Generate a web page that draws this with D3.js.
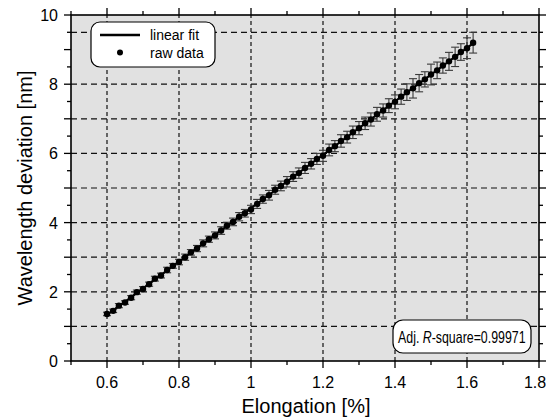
<!DOCTYPE html>
<html>
<head>
<meta charset="utf-8">
<script src="https://cdn.jsdelivr.net/npm/d3@7"></script>
<style>
  body { margin: 0; background: #fff; }
  text { font-family: "Liberation Sans", Arial, sans-serif; fill: #000; }
</style>
</head>
<body>
<div id="chart"></div>
<script>
// elongation [%]
var elongation = [0.600,0.617,0.633,0.650,0.667,0.683,0.700,0.717,0.733,0.750,0.767,0.783,
  0.800,0.817,0.833,0.850,0.867,0.883,0.900,0.917,0.933,0.950,0.967,0.983,
  1.000,1.017,1.033,1.050,1.067,1.083,1.100,1.117,1.133,1.150,1.167,1.183,
  1.200,1.217,1.233,1.250,1.267,1.283,1.300,1.317,1.333,1.350,1.367,1.383,
  1.400,1.417,1.433,1.450,1.467,1.483,1.500,1.517,1.533,1.550,1.567,1.583,1.600,1.617];

// wavelength deviation [nm]
var deviation = [1.36,1.45,1.60,1.69,1.83,1.99,2.08,2.22,2.38,2.47,2.63,2.75,
  2.86,3.00,3.14,3.25,3.40,3.52,3.63,3.77,3.91,4.02,4.17,4.27,
  4.38,4.54,4.68,4.79,4.95,5.06,5.18,5.33,5.43,5.58,5.70,5.84,
  5.93,6.10,6.21,6.36,6.47,6.61,6.73,6.87,6.98,7.13,7.24,7.38,
  7.49,7.64,7.77,7.88,8.03,8.14,8.28,8.40,8.54,8.66,8.79,8.93,9.04,9.20];

// error bar half-heights [nm]
var errors = [0.05,0.05,0.06,0.05,0.06,0.06,0.07,0.06,0.07,0.07,0.08,0.07,
  0.08,0.09,0.08,0.09,0.10,0.09,0.10,0.11,0.10,0.11,0.12,0.11,
  0.12,0.13,0.12,0.14,0.13,0.14,0.15,0.14,0.15,0.16,0.15,0.16,
  0.16,0.17,0.16,0.18,0.17,0.18,0.19,0.18,0.19,0.20,0.19,0.20,
  0.20,0.22,0.24,0.28,0.25,0.22,0.30,0.24,0.22,0.26,0.28,0.24,0.30,0.30];

// linear fit
var fitSlope = 7.72;
var fitIntercept = 1.33 - 7.72 * 0.6;

var xTickLabels = [0.6, 0.8, 1.0, 1.2, 1.4, 1.6, 1.8];
var yTickLabels = [0, 2, 4, 6, 8, 10];
var hGrid = [1, 2, 3, 4, 5, 6, 7, 8, 9.5];
var vGrid = [0.6, 0.8, 1.0, 1.2, 1.4, 1.6];
var legendItems = ["linear fit", "raw data"];

var width = 546, height = 419;
var margin = {top: 15, right: 7, bottom: 58, left: 71};

var svg = d3.select("#chart").append("svg")
    .attr("width", width)
    .attr("height", height);

var x = d3.scaleLinear().domain([0.5, 1.8]).range([margin.left, width - margin.right]);
var y = d3.scaleLinear().domain([0, 10]).range([height - margin.bottom, margin.top]);

var data = elongation.map(function(d, i) {
    return {x: d, y: deviation[i], e: errors[i]};
});

// plot background
svg.append("rect")
    .attr("x", x(0.5)).attr("y", y(10))
    .attr("width", x(1.8) - x(0.5)).attr("height", y(0) - y(10))
    .attr("fill", "#e1e1e1");

// grid
svg.selectAll(".hgrid").data(hGrid).enter().append("line")
    .attr("x1", x(0.5)).attr("x2", x(1.8))
    .attr("y1", d => y(d)).attr("y2", d => y(d))
    .attr("stroke", "#111").attr("stroke-width", 1.2)
    .attr("stroke-dasharray", "6,4");

svg.selectAll(".vgrid").data(vGrid).enter().append("line")
    .attr("y1", y(0)).attr("y2", y(10))
    .attr("x1", d => x(d)).attr("x2", d => x(d))
    .attr("stroke", "#111").attr("stroke-width", 1.2)
    .attr("stroke-dasharray", "4,3");

// axes (mirrored ticks)
var xMinor = d3.range(5, 19).map(d => d / 10);
var yMinor = d3.range(0, 21).map(d => d / 2);

function ticksX(gy, dir) {
    var g = svg.append("g").attr("transform", "translate(0," + gy + ")");
    g.selectAll("line").data(xMinor).enter().append("line")
        .attr("x1", d => x(d)).attr("x2", d => x(d))
        .attr("y1", 0)
        .attr("y2", d => dir * (Math.round(d * 10) % 2 === 0 ? 7 : 4))
        .attr("stroke", "#000").attr("stroke-width", 1.3);
}
function ticksY(gx, dir) {
    var g = svg.append("g").attr("transform", "translate(" + gx + ",0)");
    g.selectAll("line").data(yMinor).enter().append("line")
        .attr("y1", d => y(d)).attr("y2", d => y(d))
        .attr("x1", 0)
        .attr("x2", d => dir * (Number.isInteger(d) ? 7 : 4))
        .attr("stroke", "#000").attr("stroke-width", 1.3);
}
ticksX(y(0), 1);
ticksX(y(10), -1);
ticksY(x(0.5), -1);
ticksY(x(1.8), 1);

svg.append("rect")
    .attr("x", x(0.5)).attr("y", y(10))
    .attr("width", x(1.8) - x(0.5)).attr("height", y(0) - y(10))
    .attr("fill", "none").attr("stroke", "#000").attr("stroke-width", 1.6);

// tick labels
svg.selectAll(".xl").data(xTickLabels).enter().append("text")
    .attr("x", d => d === 1.8 ? x(d) - 4 : x(d)).attr("y", y(0) + 27)
    .attr("text-anchor", "middle").attr("font-size", 16)
    .text(d => d3.format("")(d));

svg.selectAll(".yl").data(yTickLabels).enter().append("text")
    .attr("x", x(0.5) - 13).attr("y", d => y(d) + 6)
    .attr("text-anchor", "end").attr("font-size", 16)
    .text(d => d);

// axis titles
svg.append("text")
    .attr("x", (x(0.5) + x(1.8)) / 2 + 1).attr("y", 413)
    .attr("text-anchor", "middle").attr("font-size", 20)
    .text("Elongation [%]");

svg.append("text")
    .attr("transform", "translate(32," + ((y(0) + y(10)) / 2) + ") rotate(-90)")
    .attr("text-anchor", "middle").attr("font-size", 20)
    .text("Wavelength deviation [nm]");

// error bars
var bars = svg.append("g").attr("stroke", "#3a3a3a").attr("stroke-width", 1.1);
data.forEach(function(d) {
    var cx = x(d.x);
    bars.append("line").attr("x1", cx).attr("x2", cx).attr("y1", y(d.y - d.e)).attr("y2", y(d.y + d.e));
    bars.append("line").attr("x1", cx - 4).attr("x2", cx + 4).attr("y1", y(d.y - d.e)).attr("y2", y(d.y - d.e));
    bars.append("line").attr("x1", cx - 4).attr("x2", cx + 4).attr("y1", y(d.y + d.e)).attr("y2", y(d.y + d.e));
});

// fit line
var x0 = d3.min(elongation), x1 = d3.max(elongation);
svg.append("line")
    .attr("x1", x(x0)).attr("y1", y(fitIntercept + fitSlope * x0))
    .attr("x2", x(x1)).attr("y2", y(fitIntercept + fitSlope * x1))
    .attr("stroke", "#000").attr("stroke-width", 2);

// points
svg.selectAll(".pt").data(data).enter().append("circle")
    .attr("cx", d => x(d.x)).attr("cy", d => y(d.y))
    .attr("r", 3.2).attr("fill", "#000");

// legend
var lg = svg.append("g");
lg.append("rect")
    .attr("x", 91).attr("y", 22).attr("width", 124).attr("height", 45)
    .attr("rx", 9).attr("ry", 9)
    .attr("fill", "#fff").attr("stroke", "#000").attr("stroke-width", 1.2);
lg.append("line").attr("x1", 100).attr("x2", 140).attr("y1", 35).attr("y2", 35)
    .attr("stroke", "#000").attr("stroke-width", 2.5);
lg.append("circle").attr("cx", 120).attr("cy", 52.5).attr("r", 3).attr("fill", "#000");
lg.selectAll("text").data(legendItems).enter().append("text")
    .attr("x", 150).attr("y", (d, i) => 40 + i * 18)
    .attr("font-size", 14)
    .text(d => d);

// adj. R-square box
var rb = svg.append("g");
rb.append("rect")
    .attr("x", 393).attr("y", 320).attr("width", 138).attr("height", 33)
    .attr("rx", 10).attr("ry", 10)
    .attr("fill", "#fff").attr("stroke", "#000").attr("stroke-width", 1.2);
var rt = rb.append("text")
    .attr("transform", "translate(398,342.5) scale(0.75,1)")
    .attr("font-size", 16.5);
rt.append("tspan").text("Adj. ");
rt.append("tspan").attr("font-style", "italic").text("R");
rt.append("tspan").text("-square=0.99971");
</script>
</body>
</html>
